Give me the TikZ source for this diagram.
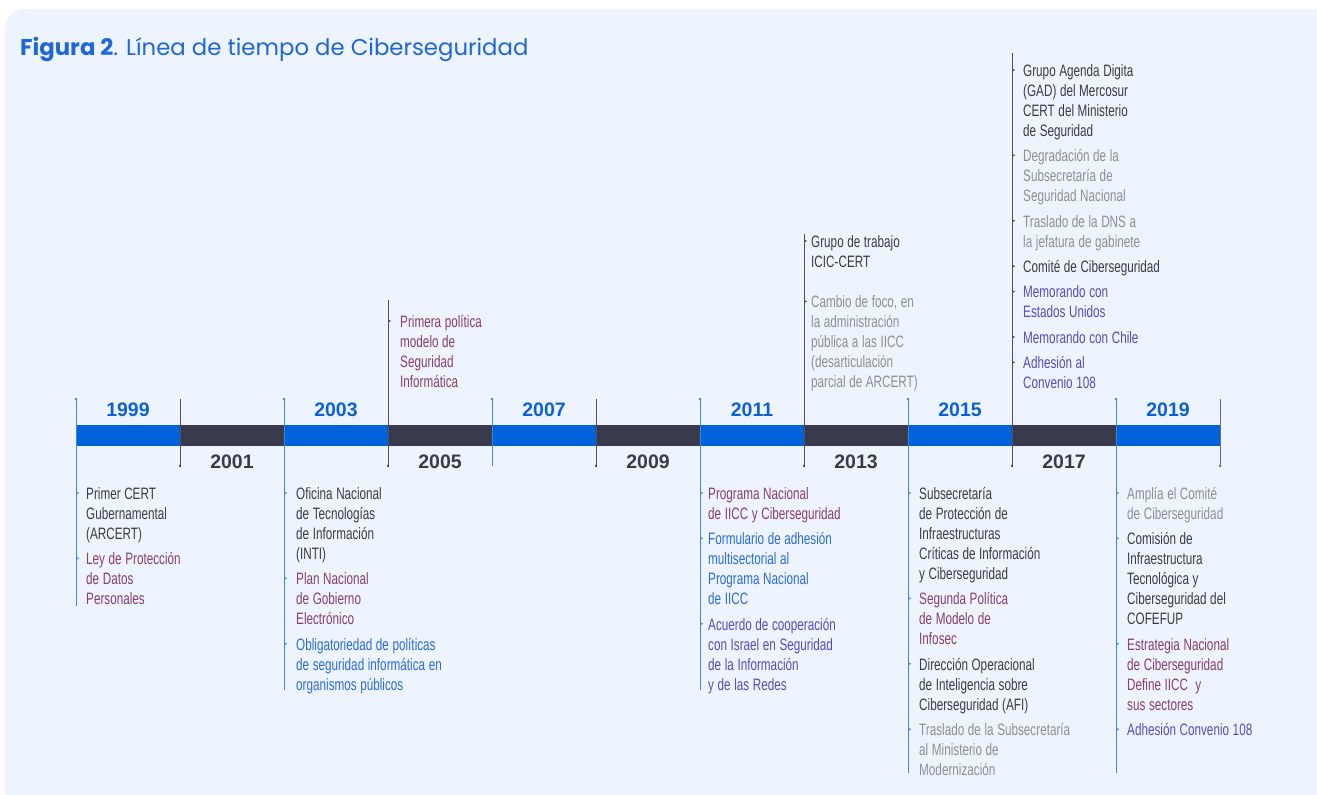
\documentclass[tikz,border=0pt]{standalone}
\usepackage{fontspec}
\setmainfont{Liberation Sans}
\newfontfamily\titlefont{Poppins}
\newfontfamily\condfont[FakeStretch=0.71]{Liberation Sans}
\usetikzlibrary{positioning,calc}

\definecolor{bgblue}{HTML}{EEF4FD}
\definecolor{barblue}{HTML}{0062D8}
\definecolor{bardark}{HTML}{393A4C}
\definecolor{lineblue}{HTML}{3C87E6}
\definecolor{linedark}{HTML}{4E4E5C}
\definecolor{lineend}{HTML}{6B6B78}
\definecolor{yrblue}{HTML}{0B62D6}
\definecolor{yrdark}{HTML}{3A3A4A}
\definecolor{titleblue}{HTML}{1F67D6}
\definecolor{tdark}{HTML}{3B3B46}
\definecolor{tgray}{HTML}{8E8E96}
\definecolor{tred}{HTML}{8A3D6E}
\definecolor{tblue}{HTML}{2A6CD8}
\definecolor{tpurple}{HTML}{5A4BB5}

\newcommand\evfont{\condfont\fontsize{16.5bp}{20bp}\selectfont}
\newcommand\yrfont{\bfseries\fontsize{19.5bp}{20bp}\selectfont}

\tikzset{
  ev/.style={anchor=north west, align=left, text width=170bp, inner sep=0pt,
    font=\evfont, execute at begin node={\spaceskip=3.6bp\xspaceskip=3.6bp\strut},
    execute at end node=\strut},
  evnext/.style={below=5bp of #1.south west, anchor=north west},
  yr/.style={anchor=base, inner sep=0pt, font=\yrfont},
  tl/.style={line width=1bp},
}
\newcommand\evtip[3]{%
  \fill[#3] ($(#1.north west -| #2)+(0,6.5)$) -- ++(3.2,1.5) -- ++(-3.2,1.5) -- cycle;}

\begin{document}
\begin{tikzpicture}[x=1bp,y=-1bp]
  \useasboundingbox (0,0) rectangle (1317,794);
  \clip (0,0) rectangle (1317,794);
  \fill[white] (0,0) rectangle (1317,794);
  \fill[bgblue, rounded corners=20bp] (5,9) rectangle (1360,840);

  \node[anchor=base west, inner sep=0pt, text=titleblue,
    font=\titlefont\fontsize{22.8bp}{26bp}\selectfont] (title) at (20,56)
    {{\bfseries Figura 2}. Línea de tiempo de Ciberseguridad};

  \foreach \x [count=\i] in {76,180,...,1116}{
    \ifodd\i \def\c{barblue}\else \def\c{bardark}\fi
    \fill[\c] (\x,425) rectangle ++(104,21);
  }

  \foreach \yr/\x/\e in {1999/76/606, 2003/284/690, 2007/492/466,
      2011/700/690, 2015/908/773, 2019/1116/773}{
    \coordinate (t\yr) at (\x,399);
    \coordinate (u\yr) at (\x,\e);
    \draw[tl, lineblue] (t\yr) -- (u\yr);
    \fill[lineblue] (t\yr) circle (1.4bp);
    \node[yr, text=yrblue] (y\yr) at (\x+52,416) {\yr};
  }
  \foreach \yr/\x/\e in {2001/180/399, 2005/388/300, 2009/596/399,
      2013/804/234, 2017/1012/53}{
    \coordinate (t\yr) at (\x,\e);
    \coordinate (u\yr) at (\x,466);
    \draw[tl, linedark] (t\yr) -- (u\yr);
    \fill[linedark] (u\yr) circle (1.4bp);
    \node[yr, text=yrdark] (y\yr) at (\x+52,468) {\yr};
  }
  \coordinate (tend) at (1220,399);
  \coordinate (uend) at (1220,466);
  \draw[tl, lineend] (tend) -- (uend);
  \fill[lineend] (uend) circle (1.4bp);

  \node[ev, text=tdark] (a1) at (86,485) {Primer CERT\\Gubernamental\\(ARCERT)};
  \node[ev, evnext=a1, text=tred] (a2) {Ley de Protección\\de Datos\\Personales};

  \node[ev, text=tdark] (c1) at (296,485) {Oficina Nacional\\de Tecnologías\\de Información\\(INTI)};
  \node[ev, evnext=c1, text=tred] (c2) {Plan Nacional\\de Gobierno\\Electrónico};
  \node[ev, evnext=c2, text=tblue] (c3) {Obligatoriedad de políticas\\de seguridad informática en\\organismos públicos};

  \node[ev, text=tred] (e1) at (400,313) {Primera política\\modelo de\\Seguridad\\Informática};

  \node[ev, text=tred] (k1) at (708,485) {Programa Nacional\\de IICC y Ciberseguridad};
  \node[ev, evnext=k1, text=tblue] (k2) {Formulario de adhesión\\multisectorial al\\Programa Nacional\\de IICC};
  \node[ev, evnext=k2, text=tpurple] (k3) {Acuerdo de cooperación\\con Israel en Seguridad\\de la Información\\y de las Redes};

  \node[ev, text=tdark] (m1) at (811,233) {Grupo de trabajo\\ICIC-CERT};
  \node[ev, below=20bp of m1.south west, anchor=north west, text=tgray] (m2)
    {Cambio de foco, en\\la administración\\pública a las IICC\\(desarticulación\\parcial de ARCERT)};

  \node[ev, text=tdark] (p1) at (919,485) {Subsecretaría\\de Protección de\\Infraestructuras\\Críticas de Información\\y Ciberseguridad};
  \node[ev, evnext=p1, text=tred] (p2) {Segunda Política\\de Modelo de\\Infosec};
  \node[ev, evnext=p2, text=tdark] (p3) {Dirección Operacional\\de Inteligencia sobre\\Ciberseguridad (AFI)};
  \node[ev, evnext=p3, text=tgray] (p4) {Traslado de la Subsecretaría\\al Ministerio de\\Modernización};

  \node[ev, text=tdark] (r1) at (1023,62) {Grupo Agenda Digita\\(GAD) del Mercosur\\CERT del Ministerio\\de Seguridad};
  \node[ev, evnext=r1, text=tgray] (r2) {Degradación de la\\Subsecretaría de\\Seguridad Nacional};
  \node[ev, evnext=r2, text=tgray] (r3) {Traslado de la DNS a\\la jefatura de gabinete};
  \node[ev, evnext=r3, text=tdark] (r4) {Comité de Ciberseguridad};
  \node[ev, evnext=r4, text=tpurple] (r5) {Memorando con\\Estados Unidos};
  \node[ev, evnext=r5, text=tpurple] (r6) {Memorando con Chile};
  \node[ev, evnext=r6, text=tpurple] (r7) {Adhesión al\\Convenio 108};

  \node[ev, text=tgray] (s1) at (1127,485) {Amplía el Comité\\de Ciberseguridad};
  \node[ev, evnext=s1, text=tdark] (s2) {Comisión de\\Infraestructura\\Tecnológica y\\Ciberseguridad del\\COFEFUP};
  \node[ev, evnext=s2, text=tred] (s3) {Estrategia Nacional\\de Ciberseguridad\\Define IICC\ \ y\\sus sectores};
  \node[ev, evnext=s3, text=tpurple] (s4) {Adhesión Convenio 108};

  \foreach \n in {a1,a2} {\evtip{\n}{t1999}{lineblue}}
  \foreach \n in {c1,c2,c3} {\evtip{\n}{t2003}{lineblue}}
  \foreach \n in {e1} {\evtip{\n}{t2005}{linedark}}
  \foreach \n in {k1,k2,k3} {\evtip{\n}{t2011}{lineblue}}
  \foreach \n in {m1,m2} {\evtip{\n}{t2013}{linedark}}
  \foreach \n in {p1,p2,p3,p4} {\evtip{\n}{t2015}{lineblue}}
  \foreach \n in {r1,r2,r3,r4,r5,r6,r7} {\evtip{\n}{t2017}{linedark}}
  \foreach \n in {s1,s2,s3,s4} {\evtip{\n}{t2019}{lineblue}}
\end{tikzpicture}
\end{document}
